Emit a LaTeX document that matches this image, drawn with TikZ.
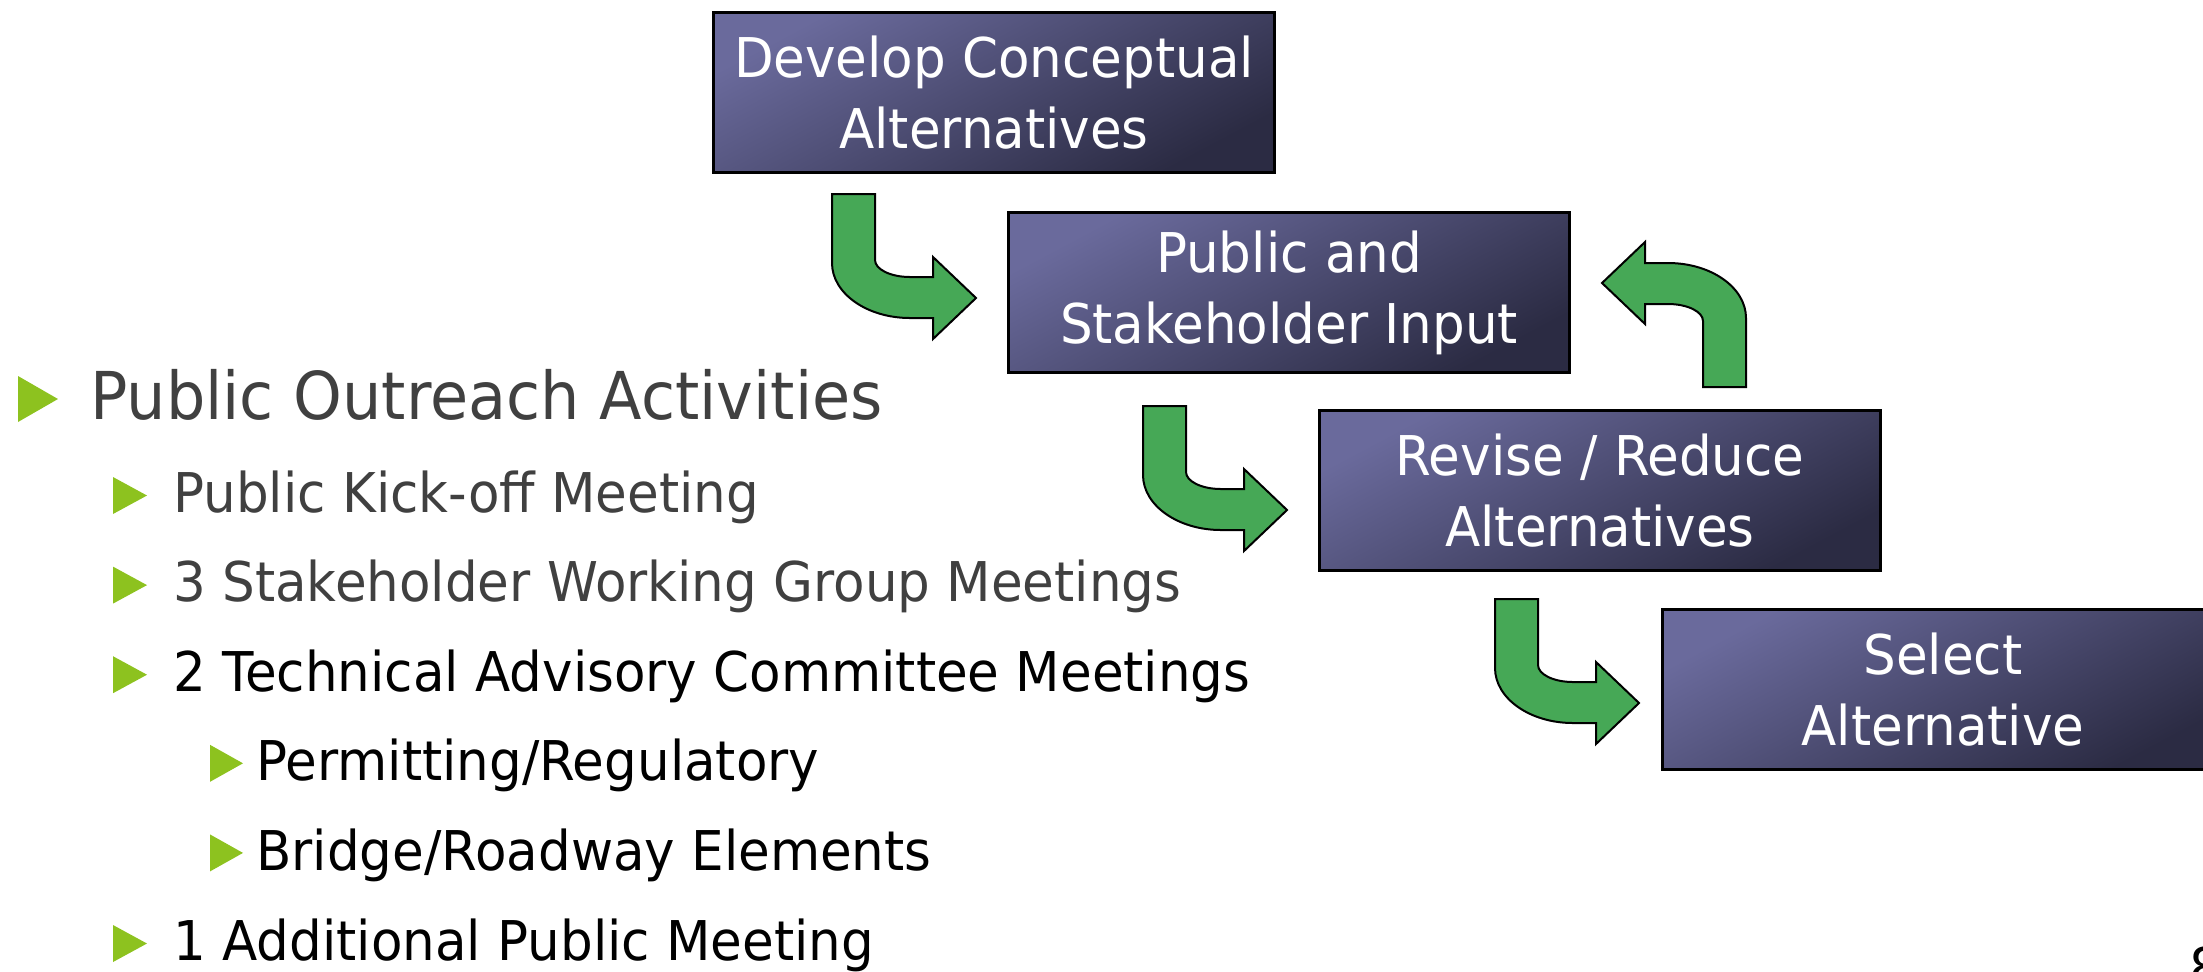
\documentclass[tikz,border=0pt]{standalone}
\usepackage{fontspec}
\setmainfont{DejaVu Sans}[FakeStretch=0.94]

\definecolor{stagelight}{HTML}{6A6A9C}
\definecolor{stagedark}{HTML}{2B2B43}
\definecolor{arrowgreen}{HTML}{46A856}
\definecolor{bulletgreen}{HTML}{8DC21F}
\definecolor{textgray}{HTML}{404040}

\begin{document}
\begin{tikzpicture}[x=0.5pt,y=-0.5pt,
    stage/.style={draw=black, line width=1.5pt, top color=stagelight, bottom color=stagedark,
      shading angle=28, minimum width=280.5pt, minimum height=80pt, inner sep=0pt,
      anchor=north west, align=center, text=white, font=\fontsize{27.4}{35.5}\selectfont},
    item/.style={anchor=base west, inner sep=0pt, font=\fontsize{27.4}{33}\selectfont},
    bullet/.style={fill=bulletgreen},
    bentarrow/.pic={
      \draw[fill=arrowgreen, line width=1pt] (0,0) -- (43,0) -- (43,66)
        .. controls (43,75.4) and (58.7,83) .. (78,83) -- (101,83) -- (101,63)
        -- (144,104) -- (101,145) -- (101,124) -- (78,124)
        .. controls (34.9,124) and (0,99.4) .. (0,69) -- cycle;
    }]
        \useasboundingbox (0,0) rectangle (2203,971);

        % process boxes
        \node[stage] (develop) at (712,11)   {Develop Conceptual\\Alternatives};
        \node[stage] (input)   at (1007,211) {Public and\\Stakeholder Input};
        \node[stage] (revise)  at (1318,409) {Revise / Reduce\\Alternatives};
        \node[stage] (select)  at (1661,608) {Select\\Alternative};

        % bent arrows
        \path (input.north west)  ++(-175,-17) pic {bentarrow};
        \path (revise.north west) ++(-175,-3)  pic {bentarrow};
        \path (select.north west) ++(-166,-9)  pic {bentarrow};
        \path (revise.north east) ++(-136,-22) pic[rotate=180] {bentarrow};

        % bullet list
        \node[item, font=\fontsize{33}{40}\selectfont, text=textgray] (outreach) at (90,419) {Public Outreach Activities};
        \node[item, text=textgray] (kickoff)    at (173,512) {Public Kick-off Meeting};
        \node[item, text=textgray] (working)    at (173,601.6) {3 Stakeholder Working Group Meetings};
        \node[item] (technical)  at (173,691.2) {2 Technical Advisory Committee Meetings};
        \node[item] (permitting) at (256,780.8) {Permitting/Regulatory};
        \node[item] (bridge)     at (256,870.4) {Bridge/Roadway Elements};
        \node[item] (additional) at (173,960)   {1 Additional Public Meeting};

        \fill[bullet] (outreach.base west) ++(-72,-43) -- ++(40,23) -- ++(-40,23) -- cycle;
        \foreach \n in {kickoff,working,technical,additional}
        \fill[bullet] (\n.base west) ++(-60,-35) -- ++(34,18.5) -- ++(-34,18.5) -- cycle;
        \foreach \n in {permitting,bridge}
        \fill[bullet] (\n.base west) ++(-46,-36) -- ++(33,18.5) -- ++(-33,18.5) -- cycle;

        \node[item] (pagenum) at (2189,987) {8};
\end{tikzpicture}
\end{document}
